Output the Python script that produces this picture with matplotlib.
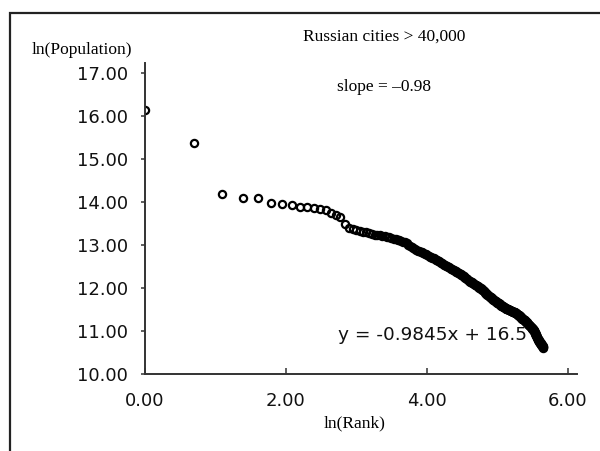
import numpy as np
import matplotlib
matplotlib.use("Agg")
import matplotlib.pyplot as plt
from matplotlib.patches import Rectangle

# ln(Population) of Russian cities > 40,000, ordered by rank (1 = largest)
ln_pop = [
    16.14, 15.37, 14.18, 14.10, 14.08, 13.97, 13.95, 13.92, 13.89, 13.88,
    13.86, 13.83, 13.81, 13.74, 13.70, 13.66, 13.48, 13.39, 13.36, 13.34,
    13.33, 13.31, 13.30, 13.28, 13.25, 13.24, 13.23, 13.22, 13.21, 13.20,
    13.19, 13.18, 13.16, 13.15, 13.13, 13.12, 13.11, 13.09, 13.08, 13.06,
    13.04, 13.01, 12.98, 12.95, 12.93, 12.91, 12.89, 12.87, 12.86, 12.84,
    12.83, 12.81, 12.80, 12.78, 12.77, 12.75, 12.73, 12.72, 12.70, 12.69,
    12.68, 12.66, 12.65, 12.63, 12.62, 12.60, 12.59, 12.57, 12.56, 12.54,
    12.53, 12.52, 12.50, 12.49, 12.48, 12.46, 12.45, 12.44, 12.42, 12.41,
    12.40, 12.39, 12.38, 12.37, 12.35, 12.34, 12.33, 12.32, 12.30, 12.29,
    12.28, 12.27, 12.25, 12.24, 12.23, 12.22, 12.20, 12.19, 12.17, 12.16,
    12.15, 12.14, 12.13, 12.12, 12.11, 12.10, 12.09, 12.08, 12.07, 12.06,
    12.05, 12.04, 12.03, 12.02, 12.01, 12.00, 11.99, 11.98, 11.97, 11.96,
    11.95, 11.93, 11.92, 11.90, 11.89, 11.88, 11.86, 11.85, 11.84, 11.83,
    11.82, 11.81, 11.80, 11.79, 11.78, 11.77, 11.76, 11.75, 11.74, 11.73,
    11.72, 11.71, 11.70, 11.70, 11.69, 11.68, 11.67, 11.66, 11.66, 11.65,
    11.64, 11.63, 11.62, 11.62, 11.61, 11.60, 11.59, 11.59, 11.58, 11.57,
    11.56, 11.56, 11.55, 11.55, 11.54, 11.53, 11.53, 11.52, 11.52, 11.51,
    11.51, 11.50, 11.50, 11.49, 11.49, 11.48, 11.48, 11.48, 11.47, 11.47,
    11.46, 11.46, 11.46, 11.45, 11.45, 11.44, 11.44, 11.44, 11.43, 11.43,
    11.42, 11.42, 11.41, 11.41, 11.40, 11.40, 11.39, 11.38, 11.38, 11.37,
    11.36, 11.36, 11.35, 11.34, 11.34, 11.33, 11.32, 11.32, 11.31, 11.30,
    11.29, 11.29, 11.28, 11.28, 11.27, 11.26, 11.26, 11.25, 11.25, 11.24,
    11.23, 11.22, 11.21, 11.20, 11.20, 11.19, 11.18, 11.17, 11.17, 11.16,
    11.15, 11.14, 11.14, 11.13, 11.12, 11.12, 11.11, 11.10, 11.10, 11.09,
    11.08, 11.07, 11.06, 11.05, 11.04, 11.04, 11.03, 11.02, 11.01, 11.00,
    10.99, 10.97, 10.96, 10.94, 10.93, 10.91, 10.90, 10.89, 10.87, 10.86,
    10.85, 10.84, 10.82, 10.81, 10.80, 10.79, 10.78, 10.77, 10.75, 10.74,
    10.73, 10.72, 10.72, 10.71, 10.70, 10.69, 10.68, 10.68, 10.67, 10.66,
    10.65, 10.64, 10.63, 10.62, 10.61,
]
rank = np.arange(1, len(ln_pop) + 1)
ln_rank = np.log(rank)

x_ticks = [0, 2, 4, 6]
y_ticks = [10, 11, 12, 13, 14, 15, 16, 17]

W, H = 600, 451
fig = plt.figure(figsize=(6, 4.51), dpi=100)
ax = fig.add_axes([145 / W, 1 - 374 / H, 432 / W, 311 / H])

ax.plot(ln_rank, ln_pop, linestyle="none", marker="o", ms=5.2,
        mfc="none", mec="black", mew=1.6)

ax.set_xlim(0, 6.13)
ax.set_ylim(10, 17.23)
ax.set_xticks(x_ticks)
ax.set_yticks(y_ticks)
ax.set_xticklabels(["%.2f" % v for v in x_ticks])
ax.set_yticklabels(["%.2f" % v for v in y_ticks])

for side in ["top", "right"]:
    ax.spines[side].set_visible(False)
for side in ["left", "bottom"]:
    ax.spines[side].set_color("#333333")
    ax.spines[side].set_linewidth(1.4)

ax.tick_params(axis="x", direction="in", length=4, width=1.1, color="#333333",
               pad=13, labelsize=13, labelcolor="#111111")
ax.tick_params(axis="y", direction="out", length=3, width=1.1, color="#333333",
               pad=9, labelsize=13, labelcolor="#111111")

serif = "Liberation Serif"
fig.text(82 / W, 1 - 50 / H, "ln(Population)", family=serif, fontsize=12.5,
         ha="center", va="center", color="black")
fig.text(355 / W, 1 - 423 / H, "ln(Rank)", family=serif, fontsize=12.5,
         ha="center", va="center", color="black")
fig.text(384 / W, 1 - 37 / H, "Russian cities > 40,000", family=serif,
         fontsize=12.5, ha="center", va="center", color="black")
fig.text(384 / W, 1 - 87 / H, "slope = \u20130.98", family=serif,
         fontsize=12.5, ha="center", va="center", color="black")
fig.text(433 / W, 1 - 335 / H, "y = -0.9845x + 16.5", fontsize=13.3,
         ha="center", va="center", color="#111111")

# outer chart frame (runs off the right and bottom edges)
fig.add_artist(Rectangle((10 / W, -0.1), 1.0, 0.1 + 1 - 13 / H,
                         transform=fig.transFigure, fill=False,
                         lw=1.6, edgecolor="#222222"))

fig.savefig("out.png", dpi=100)
